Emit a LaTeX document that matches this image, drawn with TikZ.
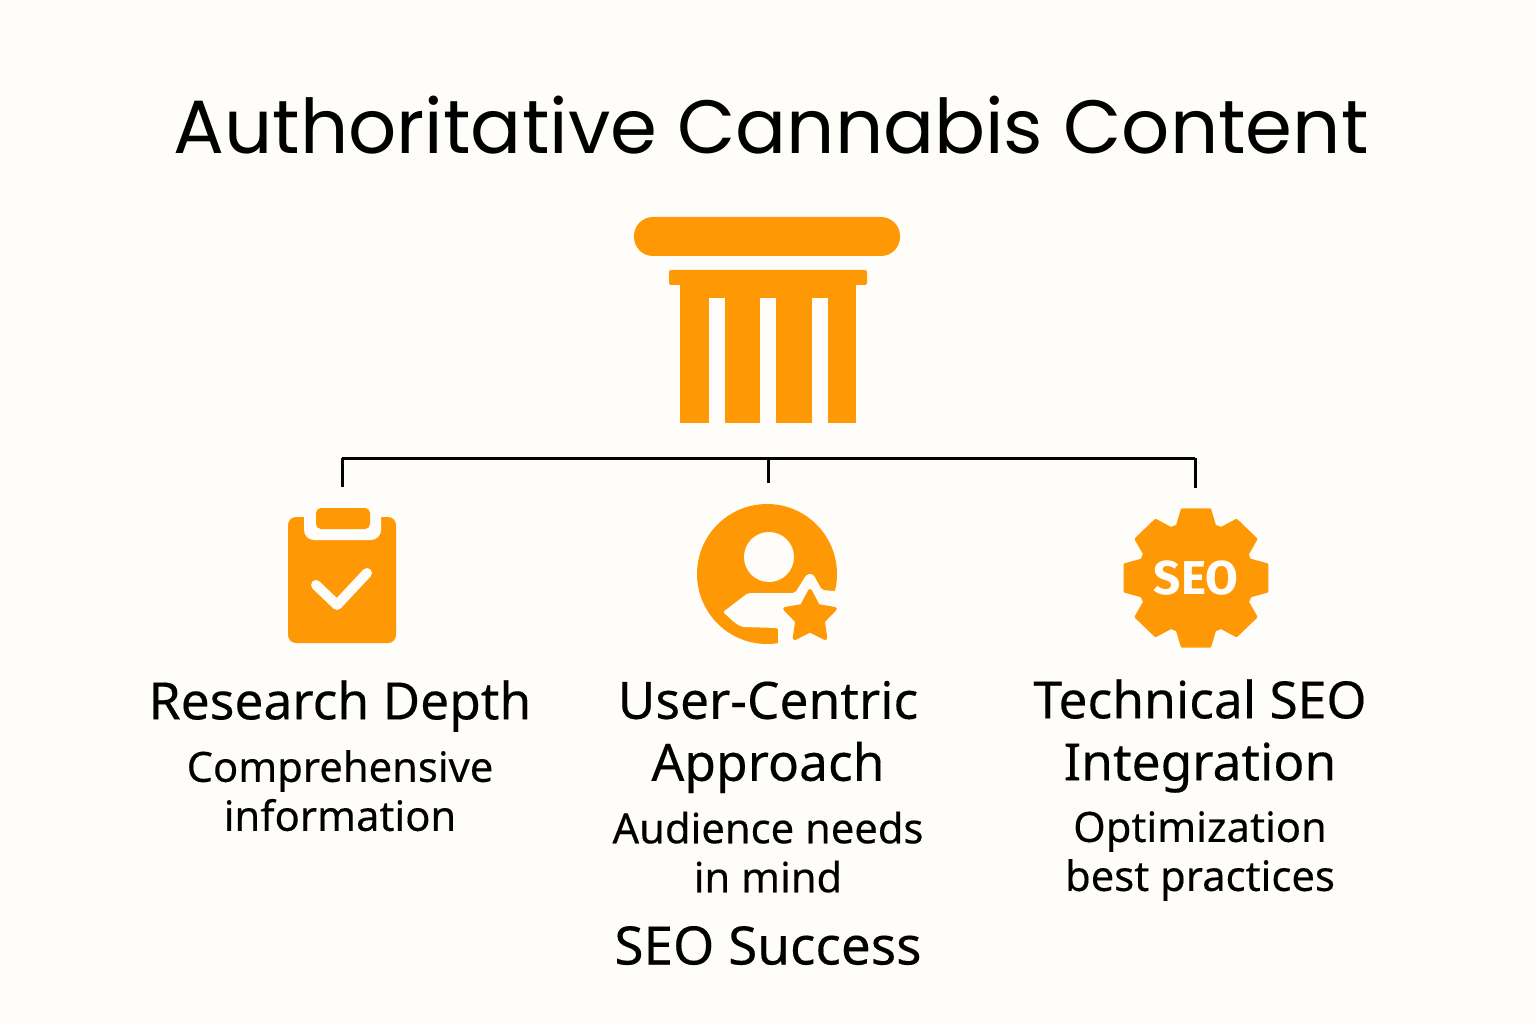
\documentclass[tikz,border=0pt]{standalone}
\usepackage{fontspec}
\setmainfont{Noto Sans}[FakeBold=0.25]
\newfontfamily\titlefont{Poppins}
\newfontfamily\badgefont{Fira Sans Bold}
\usetikzlibrary{positioning}
\definecolor{paper}{HTML}{FFFDF9}
\definecolor{amber}{HTML}{FF9805}
\newcommand{\gearpath}{
  (0:55)
  \foreach \a in {0,45,...,315} {
    -- (\a-19:55) -- (\a-11:69.5) -- (\a+11:69.5) -- (\a+19:55)
  } -- cycle}
\begin{document}
\begin{tikzpicture}[x=1pt, y=-1pt,
    head/.style={align=center, inner sep=0pt, font=\fontsize{51.5}{62}\selectfont},
    sub/.style={align=center, inner sep=0pt, font=\fontsize{41.7}{49}\selectfont},
    icon/.style={fill=amber, draw=none},
    cutout/.style={fill=paper, draw=none},
    wire/.style={draw=black, line width=3pt}]
  \useasboundingbox[fill=paper] (0,0) rectangle (1536,1024);

  \node[inner sep=0pt, font=\titlefont\fontsize{75.5}{76}\selectfont] (title) at (771,125) {Authoritative Cannabis Content};

  % pillar
  \fill[icon, rounded corners=19pt] (634,217) rectangle (900,256);
  \fill[icon, rounded corners=2pt] (669,270) rectangle (867,285);
  \fill[icon] (680,280) rectangle (856,423);
  \foreach \x in {708.5,760,812} {
    \fill[cutout] (\x,298) rectangle (\x+16,424);
  }

  % connectors
  \coordinate (busl) at (342,458);
  \coordinate (busc) at (768,458);
  \coordinate (busr) at (1195,458);
  \coordinate (dropl) at (342,487);
  \coordinate (dropc) at (768,483);
  \coordinate (dropr) at (1195,488);
  \draw[wire] (busl) -- (busr);
  \draw[wire] (busl) -- (dropl);
  \draw[wire] (busc) -- (dropc);
  \draw[wire] (busr) -- (dropr);

  % clipboard
  \fill[icon, rounded corners=8pt] (288,517) rectangle (396,643);
  \fill[cutout, rounded corners=10pt] (304,505) rectangle (381,540);
  \fill[icon, rounded corners=5pt] (316,508) rectangle (370,529);
  \draw[paper, line width=10pt, line cap=round, line join=round] (316,585) -- (337,605) -- (367,573);

  % person
  \fill[icon] (767,574) circle (70);
  \fill[cutout] (769,557) circle (25);
  \fill[cutout, rounded corners=2pt] (723,612) -- (748,593) -- (795,593) -- (807,574) -- (813,574) -- (822,590) -- (845,592)
    -- (850,650) -- (778,650) -- (778,628) -- (742,627) -- (735,623) -- cycle;
  \fill[icon, draw=amber, line width=4pt, line join=round] (-90:26) ++(810,617)
    \foreach \a in {-90,-18,54,126,198} {
      -- ([shift={(810,617)}]\a:26) -- ([shift={(810,617)}]\a+36:13.5)
    } -- cycle;

  % gear
  \fill[icon, draw=amber, line width=3pt, line join=round, shift={(1196,578)}, xscale=1.04] \gearpath;
  \node[inner sep=0pt, text=paper, font=\badgefont\fontsize{47.5}{47.5}\selectfont] (seo) at (1196,578) {SEO};

  % captions
  \node[head] (depth) at (340,706) {Research Depth};
  \node[sub, below=18pt of depth] (depthsub) {Comprehensive\\information};
  \node[head] (user) at (768,737) {User-Centric\\Approach};
  \node[sub, below=18pt of user] (usersub) {Audience needs\\in mind};
  \node[head] (tech) at (1200,736) {Technical SEO\\Integration};
  \node[sub, below=18pt of tech] (techsub) {Optimization\\best practices};
  \node[head, below=33pt of usersub, font=\fontsize{53}{62}\selectfont] (success) {SEO Success};
\end{tikzpicture}
\end{document}
